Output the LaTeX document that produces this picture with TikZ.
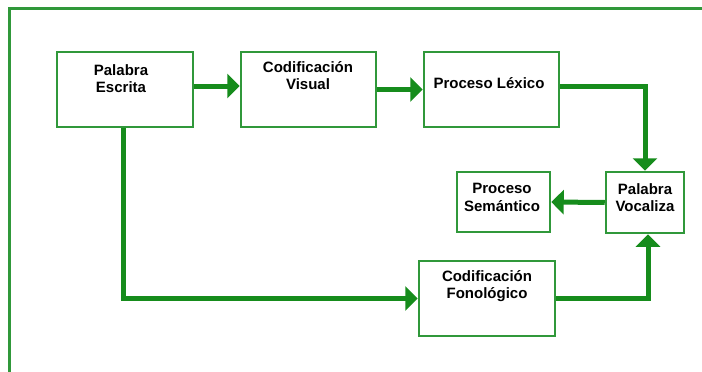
\documentclass[tikz,border=0pt]{standalone}
\usepackage{fontspec}
\setmainfont{Liberation Sans}
\usetikzlibrary{arrows.meta}
\definecolor{boxgreen}{RGB}{48,152,58}
\definecolor{arrowgreen}{RGB}{22,140,28}
\tikzset{
  stagebox/.style={draw=boxgreen, line width=2.5pt, fill=white, inner sep=0pt},
  stagetext/.style={anchor=north, inner sep=0pt, align=center,
    font=\fontsize{15}{17.5}\selectfont\bfseries},
  flow/.style={draw=arrowgreen, line width=5pt,
    -{Triangle[length=12.5pt,width=24pt]}},
}
\begin{document}
\begin{tikzpicture}[x=1pt, y=-1pt]
  \useasboundingbox (0,0) rectangle (702,372);
  % outer frame (top and left sides)
  \draw[boxgreen, line width=3pt] (9,372) -- (9,8) -- (702,8);

  % stage boxes
  \node[stagebox, minimum width=136pt, minimum height=75pt] (esc) at (125,89.5) {};
  \node[stagebox, minimum width=135pt, minimum height=75pt] (vis) at (308.5,89.5) {};
  \node[stagebox, minimum width=135pt, minimum height=75pt] (lex) at (491.5,89.5) {};
  \node[stagebox, minimum width=78pt, minimum height=61pt] (voc) at (645,202.5) {};
  \node[stagebox, minimum width=93pt, minimum height=60pt] (sem) at (503.5,202) {};
  \node[stagebox, minimum width=136pt, minimum height=75pt] (fon) at (487,298.5) {};

  % labels
  \node[stagetext] (escT) at (121,64) {Palabra\\Escrita};
  \node[stagetext] (visT) at (308,61) {Codificación\\Visual};
  \node[stagetext] (lexT) at (489,77) {Proceso Léxico};
  \node[stagetext] (semT) at (502,183) {Proceso\\Semántico};
  \node[stagetext] (vocT) at (645,183) {Palabra\\Vocaliza};
  \node[stagetext] (fonT) at (487,270) {Codificación\\Fonológico};

  % connectors
  \draw[flow] ([yshift=3.5pt]esc.east) -- ([yshift=3.5pt]vis.west);
  \draw[flow] (vis.east) -- (lex.west);
  \draw[flow] ([yshift=3.5pt]lex.east) -| (voc.north);
  \draw[flow] (voc.west) -- (sem.east);
  \draw[flow] ([xshift=-2pt]esc.south) |- (fon.west);
  \draw[flow] (fon.east) -| ([xshift=3pt]voc.south);
\end{tikzpicture}
\end{document}
